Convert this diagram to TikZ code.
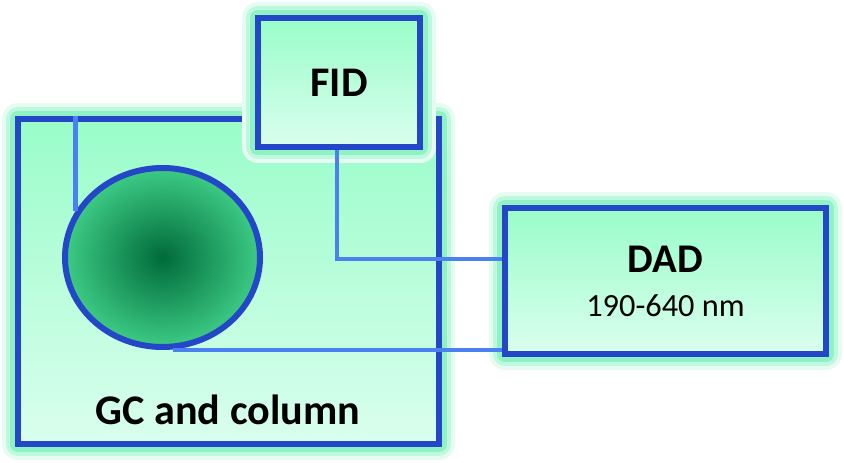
\documentclass[tikz,border=0pt]{standalone}
\usepackage{fontspec}
\setmainfont{Carlito}
\usetikzlibrary{shapes.geometric,calc}
\definecolor{edgeblue}{HTML}{2447C8}
\definecolor{pipeblue}{HTML}{4A80F0}
\definecolor{mint}{HTML}{99FDC9}
\definecolor{palemint}{HTML}{DAFEEE}
\definecolor{glowfaint}{HTML}{E6FCF2}
\definecolor{glowouter}{HTML}{BEF8DE}
\definecolor{glowinner}{HTML}{8EF2C4}
\definecolor{darkgreen}{HTML}{006A3A}
\definecolor{midgreen}{HTML}{3DCB85}

\begin{document}
\begin{tikzpicture}
        [box/.style={shape=rectangle,draw=edgeblue,line width=1.6mm,
        top color=mint,bottom color=palemint,
        preaction={draw=glowfaint,line width=8mm,line join=round},
        preaction={draw=glowouter,line width=6mm,line join=round},
        preaction={draw=glowinner,line width=4mm,line join=round}},
        pipe/.style={draw=pipeblue,line width=1.2mm},
        title/.style={font=\bfseries\fontsize{30}{34}\selectfont}]
    \useasboundingbox (0,0) rectangle (21.1,-11.575);
		\node[box,minimum width=10.525cm,minimum height=8.125cm] (gc) at (5.7125,-7.0375) {};
		\node[title] (gctext) at (5.7,-10.25) {GC and column};
		\node[shape=ellipse,draw=edgeblue,line width=1.5mm,inner color=darkgreen,
			outer color=midgreen,minimum width=4.875cm,minimum height=4.475cm]
			(col) at (4.0625,-6.4375) {};
		% connectors
		\draw[pipe] (col.152) -- (col.152 |- gc.north);
		\node[box,minimum width=4.05cm,minimum height=3.225cm] (fid) at (8.475,-2.0625)
			{\fontsize{30}{34}\selectfont\bfseries FID};
		\node[box,minimum width=8.025cm,minimum height=3.65cm,align=center,
			font=\fontsize{29}{31.3}\selectfont] (dad) at (16.6375,-7.025)
			{\textbf{DAD}\\{\fontsize{23}{31.3}\selectfont 190-640 nm}};
		\draw[pipe] ([xshift=-0.05cm]fid.south) |- ([yshift=0.55cm]dad.west);
		\draw[pipe] ([xshift=0.25cm]col.south) -- (col.south -| dad.west);
	\end{tikzpicture}
\end{document}
